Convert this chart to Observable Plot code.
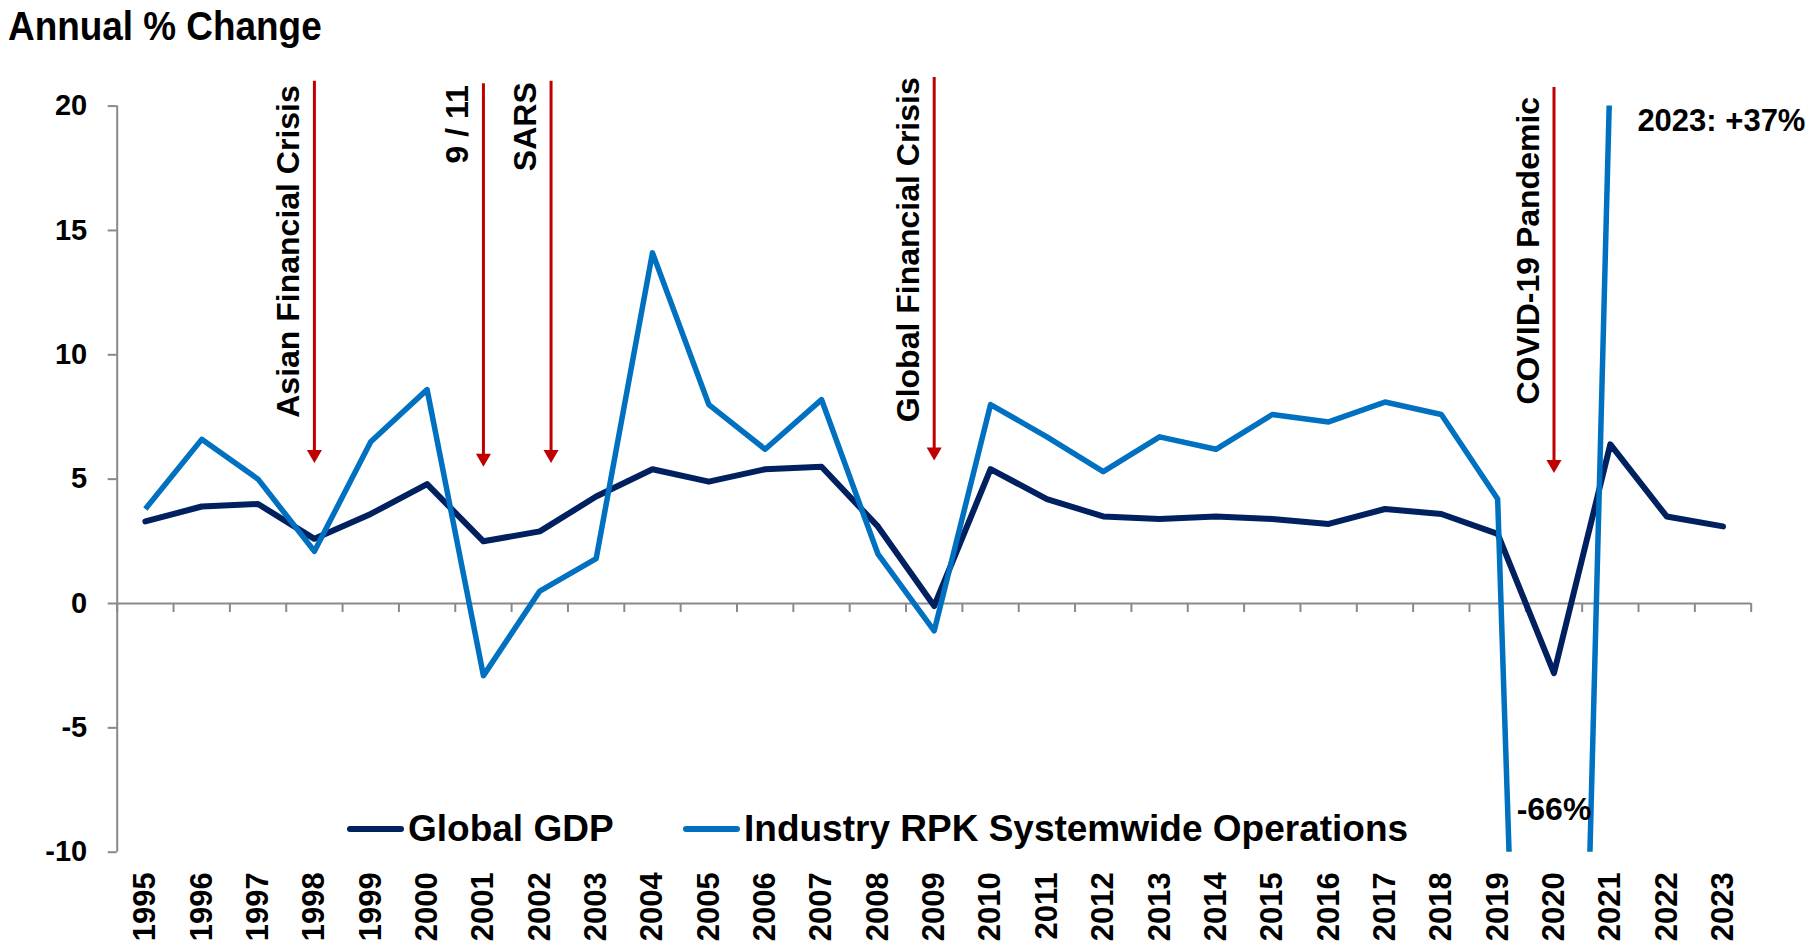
<!DOCTYPE html>
<html><head><meta charset="utf-8">
<script src="https://cdn.jsdelivr.net/npm/d3@7"></script>
<script src="https://cdn.jsdelivr.net/npm/@observablehq/plot@0.6"></script>
<style>
html,body{margin:0;padding:0;background:#fff;}
#wrap{position:relative;width:1819px;height:944px;overflow:hidden;font-family:"Liberation Sans",Arial,sans-serif;}
#chart{position:absolute;left:0;top:0;}
#title{position:absolute;left:8px;top:6px;font-size:41px;line-height:41px;font-weight:bold;color:#000;transform:scaleX(0.9);transform-origin:0 0;white-space:nowrap;}
.leg{position:absolute;top:810px;display:flex;align-items:center;height:37px;font-size:37px;line-height:37px;font-weight:bold;color:#000;white-space:nowrap;}
.sw{display:inline-block;width:57px;height:6px;border-radius:3px;margin-right:4px;}
</style></head><body>
<div id="wrap">
<div id="chart"></div>
<div id="title">Annual % Change</div>
<div id="legend"></div>
</div>
<script>
// ---- data ----
const years = [1995,1996,1997,1998,1999,2000,2001,2002,2003,2004,2005,2006,2007,2008,2009,2010,2011,2012,2013,2014,2015,2016,2017,2018,2019,2020,2021,2022,2023];
const gdpGrowth = [3.3,3.9,4.0,2.6,3.6,4.8,2.5,2.9,4.3,5.4,4.9,5.4,5.5,3.1,-0.1,5.4,4.2,3.5,3.4,3.5,3.4,3.2,3.8,3.6,2.8,-2.8,6.4,3.5,3.1];
const rpkGrowth = [3.8,6.6,5.0,2.1,6.5,8.6,-2.9,0.5,1.8,14.1,8.0,6.2,8.2,2.0,-1.1,8.0,6.7,5.3,6.7,6.2,7.6,7.3,8.1,7.6,4.2,-66.0,21.8,64.4,36.9];
const yTicks = [-10,-5,0,5,10,15,20];
const seriesNames = ["Global GDP","Industry RPK Systemwide Operations"];
const seriesColors = ["#002060","#0070C0"];
const eventLabels = ["Asian Financial Crisis","9 / 11","SARS","Global Financial Crisis","COVID-19 Pandemic"];
const eventYears = [1998,2001,2002.2,2009,2020];
const eventArrowTop = [21.0,20.9,21.0,21.15,20.75];
const eventArrowTip = [5.65,5.5,5.65,5.75,5.25];
const eventTextTop = [20.84,20.84,20.96,21.16,20.37];
const peakNote = {label:"2023: +37%", year:2021.48, value:19.0};
const troughNote = {label:"-66%", year:2020, value:-8.7};

// ---- tables ----
const rows = years.map((y,i)=>({year:y, gdp:gdpGrowth[i], rpk:rpkGrowth[i]}));
const events = eventLabels.map((l,i)=>({label:l, year:eventYears[i], top:eventArrowTop[i], tip:eventArrowTip[i], textTop:eventTextTop[i]}));
const boundaries = years.map(y=>y-0.5).concat([years[years.length-1]+0.5]);
const xDomain = [years[0]-0.5, years[years.length-1]+0.5];

const axisGray = "#898989";
const red = "#C00000";
const font = "'Liberation Sans', Arial, sans-serif";

const chart = Plot.plot({
  width:1819, height:944,
  marginLeft:116.7, marginRight:68.3, marginTop:105.6, marginBottom:92.3,
  x:{type:"linear", domain:xDomain, label:null},
  y:{domain:[-10,20], label:null},
  style:{fontFamily:font, background:"white", overflow:"visible", color:"#000"},
  marks:[
    Plot.ruleX([xDomain[0]], {stroke:axisGray, strokeWidth:2}),
    Plot.ruleY([0], {stroke:axisGray, strokeWidth:2}),
    Plot.ruleX(boundaries, {x:d=>d, y1:0, y2:0, insetBottom:-9, stroke:axisGray, strokeWidth:2}),
    Plot.axisY({ticks:yTicks, tickSize:9, tickPadding:21, fontSize:29, fontWeight:"bold", stroke:axisGray, strokeWidth:2, fill:"#000", tickFormat:d=>String(d)}),
    Plot.axisX({ticks:years, anchor:"bottom", tickSize:0, tickPadding:20, tickRotate:-90, fontSize:31, fontWeight:"bold", fill:"#000", tickFormat:d=>String(d)}),
    Plot.line(rows, {x:"year", y:"gdp", stroke:seriesColors[0], strokeWidth:6, clip:"frame", strokeLinejoin:"round", strokeLinecap:"round"}),
    Plot.line(rows, {x:"year", y:"rpk", stroke:seriesColors[1], strokeWidth:5.5, clip:"frame", strokeLinejoin:"round", strokeLinecap:"butt"}),
    Plot.ruleX(events, {x:"year", y1:"top", y2:"tip", insetBottom:6, stroke:red, strokeWidth:3}),
    Plot.dot(events, {x:"year", y:"tip", symbol:"triangle", r:5.6, rotate:180, fill:red, stroke:"none", dy:-8.7}),
    Plot.text(events, {x:"year", y:"textTop", text:"label", rotate:-90, textAnchor:"end", lineAnchor:"bottom", dx:-15, fontSize:32, fontWeight:"bold", fill:"#000"}),
    Plot.text([peakNote], {x:"year", y:"value", text:"label", textAnchor:"start", lineAnchor:"bottom", fontSize:31, fontWeight:"bold", fill:"#000"}),
    Plot.text([troughNote], {x:"year", y:"value", text:"label", textAnchor:"middle", lineAnchor:"bottom", fontSize:32, fontWeight:"bold", fill:"#000"})
  ]
});
document.getElementById("chart").appendChild(chart);

// ---- legend ----
const legendLeft = [347, 683];
const legend = document.getElementById("legend");
seriesNames.forEach((name,i)=>{
  const item = document.createElement("div");
  item.className = "leg";
  item.style.left = legendLeft[i] + "px";
  const sw = document.createElement("span");
  sw.className = "sw";
  sw.style.background = seriesColors[i];
  item.appendChild(sw);
  item.appendChild(document.createTextNode(name));
  legend.appendChild(item);
});
</script>
</body></html>
